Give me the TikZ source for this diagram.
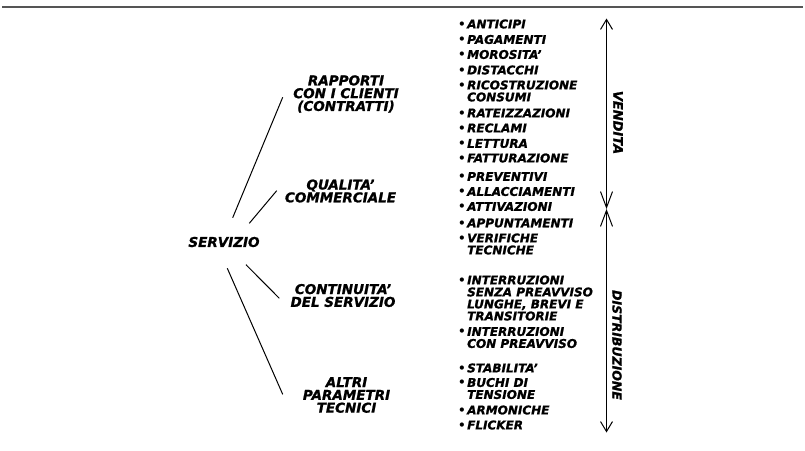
\documentclass[tikz,border=0pt]{standalone}
\usepackage{fontspec}
\setmainfont{DejaVu Sans}[BoldItalicFeatures={FakeBold=1.2}]
\usetikzlibrary{arrows.meta}
\definecolor{rulegray}{RGB}{85,85,85}
\tikzset{
  lab/.style={font=\fontsize{13.5}{12.8}\selectfont\bfseries\itshape, align=center, inner sep=0pt, anchor=center},
  item/.style={font=\fontsize{12}{12}\selectfont\bfseries\itshape, align=left, inner sep=0pt, anchor=west},
  side/.style={font=\fontsize{13}{13}\selectfont\bfseries\itshape, inner sep=0pt, rotate=-90},
  conn/.style={line width=1pt, black},
  axis/.style={line width=1pt, black},
}
\newcommand{\bul}{\llap{{\upshape •}\kern1.5pt}}
\begin{document}
\begin{tikzpicture}[x=1pt,y=-1pt]
\useasboundingbox (0,0) rectangle (805,450);
% top rule
\draw[line width=2pt, color=rulegray] (2,6.5) -- (803,6.5);

% left labels
\node[lab] (servizio) at (224,242) {SERVIZIO};
\node[lab] (rapporti) at (346,94) {RAPPORTI\\CON I CLIENTI\\(CONTRATTI)};
\node[lab] (qualita) at (340.5,191) {QUALITA’\\COMMERCIALE};
\node[lab] (continuita) at (343,295.5) {CONTINUITA’\\DEL SERVIZIO};
\node[lab] (altri) at (346.5,395) {ALTRI\\PARAMETRI\\TECNICI};

% connector end points
\coordinate (s1) at (232.7,217.7); \coordinate (r1) at (282.7,97.3);
\coordinate (s2) at (249.3,223.3); \coordinate (q1) at (276.7,190.7);
\coordinate (s3) at (246,264.7);   \coordinate (c1) at (279.3,298.3);
\coordinate (s4) at (227.3,268.3); \coordinate (a1) at (282.7,394.3);
\draw[conn] (s1) -- (r1);
\draw[conn] (s2) -- (q1);
\draw[conn] (s3) -- (c1);
\draw[conn] (s4) -- (a1);

% list items
\node[item] (i1) at (467,24) {\bul ANTICIPI};
\node[item] (i2) at (467,39.5) {\bul PAGAMENTI};
\node[item] (i3) at (467,54.5) {\bul MOROSITA’};
\node[item] (i4) at (467,70) {\bul DISTACCHI};
\node[item] (i5) at (467,91) {\bul RICOSTRUZIONE\\CONSUMI};
\node[item] (i6) at (467,113) {\bul RATEIZZAZIONI};
\node[item] (i7) at (467,128) {\bul RECLAMI};
\node[item] (i8) at (467,143.5) {\bul LETTURA};
\node[item] (i9) at (467,158) {\bul FATTURAZIONE};
\node[item] (i10) at (467,176.5) {\bul PREVENTIVI};
\node[item] (i11) at (467,191.5) {\bul ALLACCIAMENTI};
\node[item] (i12) at (467,206.5) {\bul ATTIVAZIONI};
\node[item] (i13) at (467,223) {\bul APPUNTAMENTI};
\node[item] (i14) at (467,244) {\bul VERIFICHE\\TECNICHE};
\node[item] (i15) at (467,298) {\bul INTERRUZIONI\\SENZA PREAVVISO\\LUNGHE, BREVI E\\TRANSITORIE};
\node[item] (i16) at (467,337.5) {\bul INTERRUZIONI\\CON PREAVVISO};
\node[item] (i17) at (467,368) {\bul STABILITA’};
\node[item] (i18) at (467,388.5) {\bul BUCHI DI\\TENSIONE};
\node[item] (i19) at (467,410) {\bul ARMONICHE};
\node[item] (i20) at (467,425) {\bul FLICKER};

% vertical arrows
\coordinate (top) at (606.5,18.5);
\coordinate (mid) at (606.5,209);
\coordinate (bot) at (606.5,432.5);
\draw[axis, {Straight Barb[length=10pt,width=12pt]}-{Straight Barb[length=16pt,width=12pt]}] (top) -- (mid);
\draw[axis, {Straight Barb[length=16pt,width=12pt]}-{Straight Barb[length=10pt,width=12pt]}] (mid) -- (bot);

\node[side] (vendita) at (618,122.5) {VENDITA};
\node[side, font=\fontsize{12.5}{12.5}\selectfont\bfseries\itshape] (distrib) at (617,345) {DISTRIBUZIONE};
\end{tikzpicture}
\end{document}
